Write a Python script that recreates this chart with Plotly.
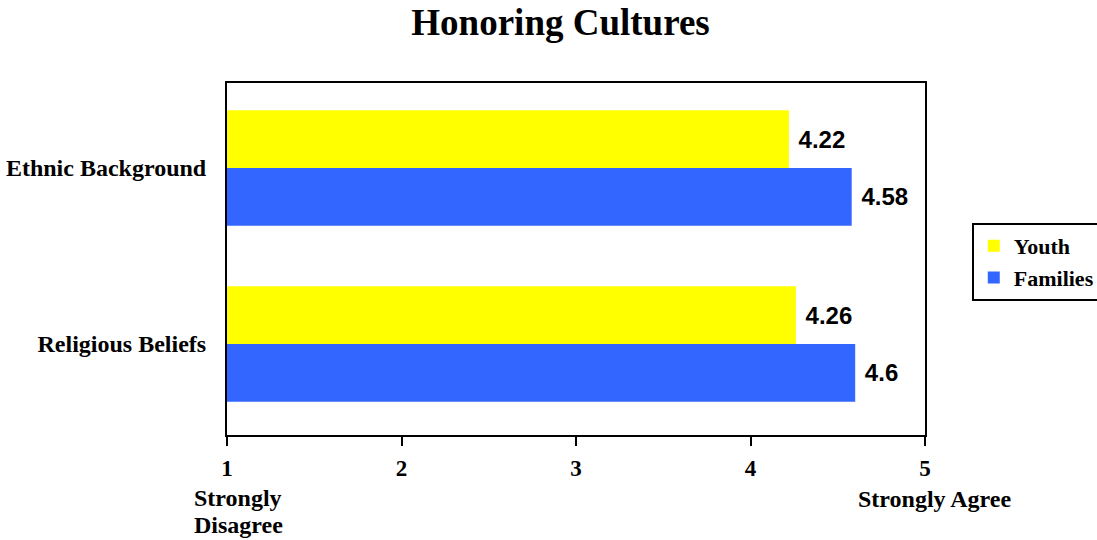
import plotly.graph_objects as go

categories = ["Ethnic Background", "Religious Beliefs"]
youth = [4.22, 4.26]
families = [4.58, 4.6]
tick_vals = [1, 2, 3, 4, 5]
tick_text = ["1", "2", "3", "4", "5"]

serif = "Times New Roman, Liberation Serif, serif"
sans = "Arial, Liberation Sans, sans-serif"

fig = go.Figure()
fig.add_trace(go.Bar(
    y=categories, x=youth, name="Youth", orientation="h", legendgroup="y",
    marker=dict(color="#FFFF00", line=dict(width=0)),
    text=[f"{v:g}" for v in youth], texttemplate=" %{text}",
    textposition="outside", cliponaxis=False,
    textfont=dict(family=sans, size=24, color="black", weight="bold"),
))
fig.add_trace(go.Bar(
    y=categories, x=families, name="Families", orientation="h", legendgroup="f",
    marker=dict(color="#3366FF", line=dict(width=0)),
    text=[f"{v:g}" for v in families], texttemplate=" %{text}",
    textposition="outside", cliponaxis=False,
    textfont=dict(family=sans, size=24, color="black", weight="bold"),
))

fig.update_layout(
    width=1097, height=540,
    paper_bgcolor="white", plot_bgcolor="white",
    margin=dict(l=227, r=172, t=83, b=105, autoexpand=False),
    barmode="group", bargap=0.345, bargroupgap=0,
    title=dict(text="<b>Honoring Cultures</b>", x=0.511, xanchor="center",
               y=0.96, yanchor="middle",
               font=dict(family=serif, size=37, color="black")),
    legend=dict(x=1.067, xanchor="left", y=0.4915, yanchor="middle",
                bordercolor="black", borderwidth=2, bgcolor="white",
                font=dict(family=serif, size=22, color="black", weight="bold"),
                traceorder="normal", itemwidth=30, tracegroupgap=5),
    showlegend=True,
)
fig.update_xaxes(
    range=[1, 5], tickvals=tick_vals, ticktext=tick_text,
    ticks="outside", ticklen=9, tickwidth=2, tickcolor="black",
    showline=True, linecolor="black", linewidth=2, mirror=True,
    showgrid=False, zeroline=False, automargin=False,
    tickfont=dict(family=serif, size=23, color="black", weight="bold"),
    ticklabelstandoff=2,
)
fig.update_yaxes(
    range=[1.517, -0.483], categoryorder="array", categoryarray=categories,
    showline=True, linecolor="black", linewidth=2, mirror=True,
    ticks="", showgrid=False, automargin=False,
    tickfont=dict(family=serif, size=24, color="black", weight="bold"),
    ticklabelstandoff=14,
)

for txt, xp, ys in [("<b>Strongly</b>", 0.0158, -63),
                    ("<b>Disagree</b>", 0.0158, -90),
                    ("<b>Strongly Agree</b>", 1.013, -64)]:
    fig.add_annotation(text=txt, x=xp, xref="paper", xanchor="center",
                       y=0, yref="paper", yanchor="middle", yshift=ys,
                       showarrow=False,
                       font=dict(family=serif, size=24, color="black"))

fig.write_html("out.html", config={"displayModeBar": False},
               post_script="document.body.style.margin='0';document.body.style.overflow='hidden';")
